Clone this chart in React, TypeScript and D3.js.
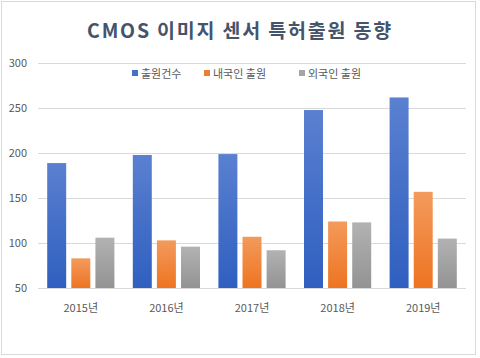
import React from "react";
import * as d3 from "d3";

const categories = ["2015년", "2016년", "2017년", "2018년", "2019년"];
const seriesNames = ["출원건수", "내국인 출원", "외국인 출원"];
const totalApps = [189, 198, 199, 248, 262];
const domesticApps = [83, 103, 107, 124, 157];
const foreignApps = [106, 96, 92, 123, 105];
const yTicks = [50, 100, 150, 200, 250, 300];

const W = 480;
const H = 358;
const FONT = "'Noto Sans CJK KR', 'Malgun Gothic', sans-serif";

export default function App() {
  const left = 38;
  const right = 466;
  const top = 63.3;
  const bottom = 288;
  const x = d3.scaleBand<string>().domain(categories).range([left, right]).paddingInner(0).paddingOuter(0);
  const y = d3.scaleLinear().domain([50, 300]).range([bottom, top]);
  const series = [totalApps, domesticApps, foreignApps];
  const gradIds = ["gBlue", "gOrange", "gGray"];
  const legendColors = ["#4472c4", "#ed7d31", "#a5a5a5"];
  const bw = x.bandwidth();
  const barW = bw / (3 + 2 * 0.27 + 0.97);
  const gap = barW * 0.27;
  const groupW = 3 * barW + 2 * gap;

  const legendX = [132, 204, 299];

  return (
    <svg width={W} height={H} style={{ position: "absolute", left: 0, top: 0 }} fontFamily={FONT}>
      <defs>
        <linearGradient id="gBlue" x1="0" y1="0" x2="0" y2="1">
          <stop offset="0" stopColor="#5a80d0" />
          <stop offset="1" stopColor="#2f5fc0" />
        </linearGradient>
        <linearGradient id="gOrange" x1="0" y1="0" x2="0" y2="1">
          <stop offset="0" stopColor="#f39a5c" />
          <stop offset="1" stopColor="#ee7421" />
        </linearGradient>
        <linearGradient id="gGray" x1="0" y1="0" x2="0" y2="1">
          <stop offset="0" stopColor="#b2b2b2" />
          <stop offset="1" stopColor="#939393" />
        </linearGradient>
      </defs>
      <rect x={0} y={0} width={W} height={H} fill="#ffffff" />
      <rect x={1.5} y={1.5} width={474} height={353} fill="#ffffff" stroke="#d9d9d9" strokeWidth={1} />
      <text x={240} y={38} textAnchor="middle" fontSize={19.5} fontWeight={700} letterSpacing={1.8} fill="#44546a">
        CMOS 이미지 센서 특허출원 동향
      </text>
      {yTicks.map((t) => (
        <g key={t}>
          <line x1={left} x2={right} y1={Math.round(y(t)) + 0.5} y2={Math.round(y(t)) + 0.5} stroke="#d9d9d9" strokeWidth={1} />
          <text x={27} y={y(t) + 4} textAnchor="end" fontSize={11} fill="#595959">
            {t}
          </text>
        </g>
      ))}
      {categories.map((c, i) => {
        const x0 = (x(c) as number) + (bw - groupW) / 2;
        return (
          <g key={c}>
            {series.map((s, k) => (
              <rect
                key={k}
                x={x0 + k * (barW + gap)}
                y={y(s[i])}
                width={barW}
                height={y(50) - y(s[i])}
                fill={`url(#${gradIds[k]})`}
              />
            ))}
            <text x={(x(c) as number) + bw / 2} y={312} textAnchor="middle" fontSize={11} fill="#595959">
              {c}
            </text>
          </g>
        );
      })}
      {seriesNames.map((n, k) => (
        <g key={n}>
          <rect x={legendX[k]} y={70} width={6} height={6} fill={legendColors[k]} />
          <text x={legendX[k] + 9} y={77.5} fontSize={11} fill="#595959">
            {n}
          </text>
        </g>
      ))}
    </svg>
  );
}
